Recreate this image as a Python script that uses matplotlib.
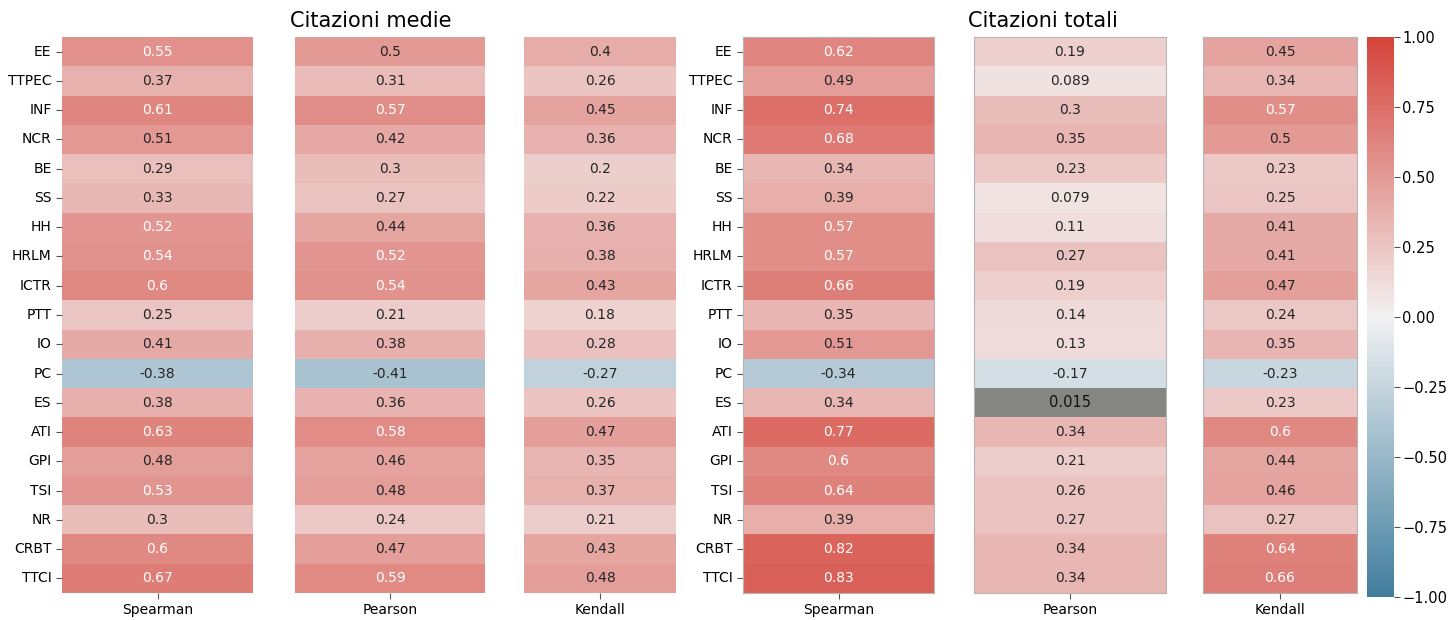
import matplotlib
matplotlib.use("Agg")
import matplotlib.pyplot as plt
import seaborn as sns
import numpy as np
import pandas as pd

labels = ["EE", "TTPEC", "INF", "NCR", "BE", "SS", "HH", "HRLM", "ICTR", "PTT",
          "IO", "PC", "ES", "ATI", "GPI", "TSI", "NR", "CRBT", "TTCI"]

medie_spearman = [0.55, 0.37, 0.61, 0.51, 0.29, 0.33, 0.52, 0.54, 0.6, 0.25,
                  0.41, -0.38, 0.38, 0.63, 0.48, 0.53, 0.3, 0.6, 0.67]
medie_pearson = [0.5, 0.31, 0.57, 0.42, 0.3, 0.27, 0.44, 0.52, 0.54, 0.21,
                 0.38, -0.41, 0.36, 0.58, 0.46, 0.48, 0.24, 0.47, 0.59]
medie_kendall = [0.4, 0.26, 0.45, 0.36, 0.2, 0.22, 0.36, 0.38, 0.43, 0.18,
                 0.28, -0.27, 0.26, 0.47, 0.35, 0.37, 0.21, 0.43, 0.48]

totali_spearman = [0.62, 0.49, 0.74, 0.68, 0.34, 0.39, 0.57, 0.57, 0.66, 0.35,
                   0.51, -0.34, 0.34, 0.77, 0.6, 0.64, 0.39, 0.82, 0.83]
totali_pearson = [0.19, 0.089, 0.3, 0.35, 0.23, 0.079, 0.11, 0.27, 0.19, 0.14,
                  0.13, -0.17, 0.015, 0.34, 0.21, 0.26, 0.27, 0.34, 0.34]
totali_kendall = [0.45, 0.34, 0.57, 0.5, 0.23, 0.25, 0.41, 0.41, 0.47, 0.24,
                  0.35, -0.23, 0.23, 0.6, 0.44, 0.46, 0.27, 0.64, 0.66]

# cella non significativa (grigia)
grey_cell = ("Pearson", "ES")

W, H = 1449, 620
fig = plt.figure(figsize=(W / 100, H / 100), dpi=100)
cmap = sns.diverging_palette(232, 14, as_cmap=True)


def box(x0, x1, y0=37, y1=593):
    return [x0 / W, 1 - y1 / H, (x1 - x0) / W, (y1 - y0) / H]


panels = [
    (medie_spearman, "Spearman", box(62, 253), True, False),
    (medie_pearson, "Pearson", box(295, 485), False, False),
    (medie_kendall, "Kendall", box(524, 676), False, False),
    (totali_spearman, "Spearman", box(743, 934), True, True),
    (totali_pearson, "Pearson", box(974, 1166), False, True),
    (totali_kendall, "Kendall", box(1203, 1357), False, True),
]

cax = fig.add_axes(box(1367, 1394, 37, 597))

for i, (vals, name, pos, ylab, border) in enumerate(panels):
    ax = fig.add_axes(pos)
    df = pd.DataFrame({name: vals}, index=labels)
    mask = np.zeros(df.shape, dtype=bool)
    if border and name == grey_cell[0]:
        mask[labels.index(grey_cell[1]), 0] = True
    sns.heatmap(df, ax=ax, cmap=cmap, vmin=-1, vmax=1, annot=True, mask=mask,
                cbar=(i == 5), cbar_ax=cax if i == 5 else None,
                annot_kws={"fontsize": 10})
    if mask.any():
        r = labels.index(grey_cell[1])
        ax.add_patch(plt.Rectangle((0, r), 1, 1, color="#858681", zorder=0.5))
        v = vals[r]
        ax.text(0.5, r + 0.5, f"{v:.2g}", ha="center", va="center",
                fontsize=10.5, color="#111111")
    ax.tick_params(axis="x", labelsize=10, length=4, color="#555555")
    ax.tick_params(axis="y", labelsize=10, length=4, color="#555555")
    if ylab:
        ax.set_yticklabels(labels, rotation=0)
    else:
        ax.set_yticks([])
    ax.set_ylabel("")
    if border:
        for s in ax.spines.values():
            s.set_visible(True)
            s.set_color("#b5b5b5")
            s.set_linewidth(0.8)

ticks = [-1, -0.75, -0.5, -0.25, 0, 0.25, 0.5, 0.75, 1]
cax.tick_params(labelsize=10.5, length=4, color="#555555", pad=2)
cax.set_yticks(ticks)
cax.set_yticklabels([f"{t:.2f}".replace("-", "\u2212") for t in ticks])

fig.text(371 / W, 1 - 21 / H, "Citazioni medie", ha="center", va="center", fontsize=15)
fig.text(1043 / W, 1 - 21 / H, "Citazioni totali", ha="center", va="center", fontsize=15)

fig.savefig("out.png", dpi=100)
